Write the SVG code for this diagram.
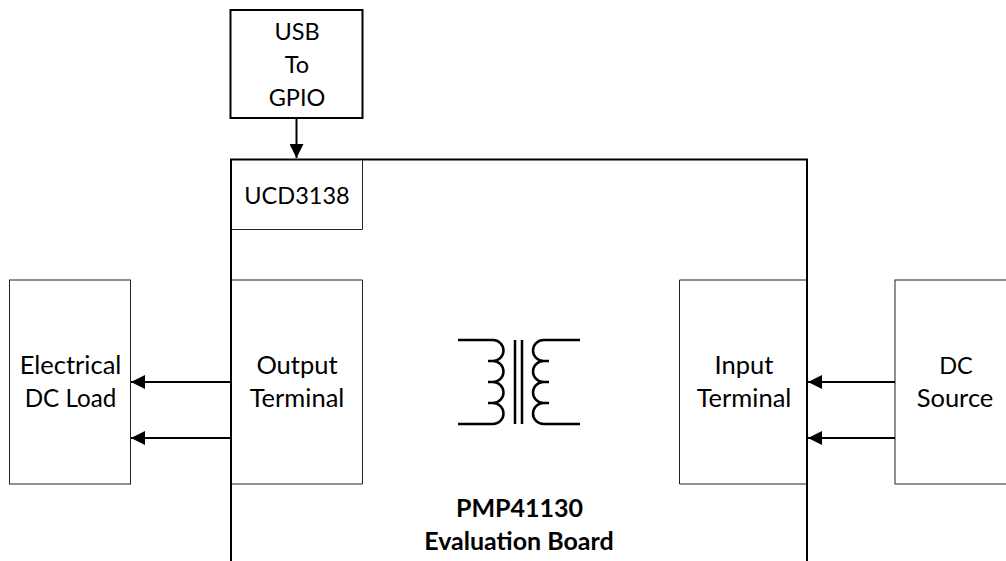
<svg xmlns="http://www.w3.org/2000/svg" width="1006" height="561" viewBox="0 0 1006 561">
<style>
.thin{fill:#fff;stroke:#222;stroke-width:1}
.thick{fill:#fff;stroke:#000;stroke-width:2}
.wire{fill:none;stroke:#000;stroke-width:2}
.coil{fill:none;stroke:#000;stroke-width:2.500}
.t{font-family:"Lato","Open Sans",sans-serif;font-size:25.500px;fill:#000;text-anchor:middle}
.c{font-size:23.500px}
.m{font-size:24.200px}
.b{font-weight:700;font-size:25px}
</style>
<defs>
<marker id="arrow" markerUnits="userSpaceOnUse" markerWidth="14" markerHeight="14" refX="14" refY="7" orient="auto"><path d="M0 0L14 7L0 14z" fill="#000"/></marker>
</defs>
<g id="board">
<path class="thick" d="M231 561V159.500H807V561"/>
<text class="t b" x="519.500" y="517">PMP41130</text>
<text class="t b" x="519" y="550">Evaluation Board</text>
</g>
<g id="ucd3138">
<path class="thin" fill="none" d="M232 229.500H362.500V160"/>
<text class="t c" x="297" y="204">UCD3138</text>
</g>
<g id="usb-to-gpio">
<rect class="thick" x="230.500" y="10" width="132" height="108"/>
<text class="t c" x="297" y="40">USB</text>
<text class="t c" x="297" y="73">To</text>
<text class="t c" x="297" y="106">GPIO</text>
</g>
<g id="output-terminal">
<path class="thin" d="M232 280H362.500V484H232"/>
<text class="t" x="297" y="374">Output</text>
<text class="t" x="297" y="407">Terminal</text>
</g>
<g id="input-terminal">
<path class="thin" d="M806 280H679.500V484H806"/>
<text class="t" x="744" y="374">Input</text>
<text class="t" x="744" y="407">Terminal</text>
</g>
<g id="electrical-dc-load">
<rect class="thin" x="9.500" y="280" width="121" height="204"/>
<text class="t" x="70.500" y="374">Electrical</text>
<text class="t m" x="70.500" y="407">DC Load</text>
</g>
<g id="dc-source">
<rect class="thin" x="895" y="280" width="120" height="204"/>
<text class="t c" x="956" y="374">DC</text>
<text class="t" x="955" y="407">Source</text>
</g>
<g id="transformer">
<path class="coil" d="M458 340H493A10.500 10.500 0 0 1 493 361H488H493A10.500 10.500 0 0 1 493 382H488H493A10.500 10.500 0 0 1 493 403H488H493A10.500 10.500 0 0 1 493 424H458"/>
<path class="coil" d="M515 340V424M522 340V424"/>
<path class="coil" d="M580 340H543.500A10.500 10.500 0 0 0 543.500 361H549H543.500A10.500 10.500 0 0 0 543.500 382H549H543.500A10.500 10.500 0 0 0 543.500 403H549H543.500A10.500 10.500 0 0 0 543.500 424H580"/>
</g>
<g id="connectors">
<path class="wire" marker-end="url(#arrow)" d="M296.500 118V158"/>
<path class="wire" marker-end="url(#arrow)" d="M230 382H131"/>
<path class="wire" marker-end="url(#arrow)" d="M230 438H131"/>
<path class="wire" marker-end="url(#arrow)" d="M895 382H808"/>
<path class="wire" marker-end="url(#arrow)" d="M895 438H808"/>
</g>
</svg>
